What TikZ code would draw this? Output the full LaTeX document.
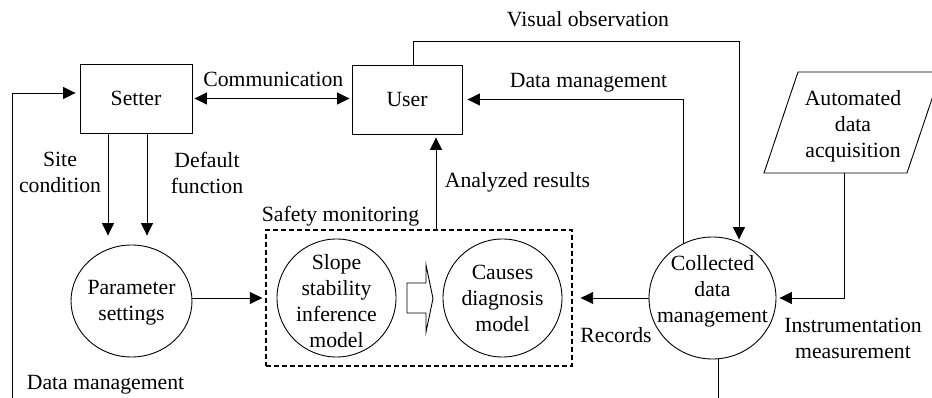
\documentclass[tikz,border=0pt]{standalone}
\usepackage{fontspec}
\setmainfont{Liberation Serif}
\usetikzlibrary{arrows.meta,shapes.geometric}
\begin{document}
\begin{tikzpicture}[x=1pt,y=-1pt,
  every node/.style={font=\fontsize{21.7pt}{26pt}\selectfont, inner sep=0pt},
  line/.style={line width=0.9pt},
  arr/.style={line, -{Triangle[length=12.5pt,width=12pt]}},
  darr/.style={line, {Triangle[length=12.5pt,width=12pt]}-{Triangle[length=12.5pt,width=12pt]}},
  box/.style={draw, line width=0.9pt, minimum width=#1, minimum height=69pt},
  blob/.style 2 args={draw, ellipse, line width=0.9pt, minimum width=#1, minimum height=#2},
  txt/.style={align=center, anchor=north},
  lbl/.style={anchor=base}
]
\useasboundingbox (0,0) rectangle (932,398);

% actors
\node[box=112pt] (setter) at (136,98.5) {Setter};
\node[box=110pt] (user) at (407,99.5) {User};

% processes
\node[blob={121pt}{112pt}] (param) at (131.5,301) {};
\node[txt] (paramtxt) at (131.5,280.3) {Parameter\\settings};

\node[draw, line width=1.3pt, dash pattern=on 5pt off 3pt,
      minimum width=306pt, minimum height=136pt] (safety) at (419,298) {};
\node[blob={119pt}{118pt}] (slope) at (336.5,298) {};
\node[txt] (slopetxt) at (336.5,254.3) {Slope\\stability\\inference\\model};
\node[blob={119pt}{118pt}] (causes) at (502.5,298) {};
\node[txt] (causestxt) at (502.5,265.3) {Causes\\diagnosis\\model};
\filldraw[fill=white, line width=0.9pt]
  (407,283) -- (426,283) -- (426,265) -- (433,298.5) -- (426,332) -- (426,313) -- (407,313) -- cycle;

\node[blob={127pt}{122pt}] (collected) at (712.5,298) {};
\node[txt] (collectedtxt) at (712.5,255.3) {Collected\\data\\management};

% data source
\draw[line] (764,173) -- (907,173) -- (941,72) -- (798,72) -- cycle;
\node[txt] (acq) at (853,90.3) {Automated\\data\\acquisition};
\coordinate (acqb) at (844,173);
\coordinate (dmend) at (12,398);
\coordinate (cdmend) at (718,398);

% connectors
\draw[darr, shorten <=2pt, shorten >=2pt] (setter.east) -- (setter.east -| user.west);
\draw[arr, shorten >=4pt] (dmend) |- ([yshift=5.5pt]setter.west);
\draw[arr, shorten >=9pt] ([xshift=-28pt]setter.south) -- ([xshift=-28pt]setter.south |- param.north);
\draw[arr, shorten >=9pt] ([xshift=11pt]setter.south) -- ([xshift=11pt]setter.south |- param.north);
\draw[arr, shorten >=3pt] (param.east |- safety.west) -- (safety.west);
\draw[arr, shorten >=3pt] ([xshift=17pt]safety.north) -- ([xshift=17pt]safety.north |- user.south);
\draw[arr] ([xshift=6pt]user.north) -- ++(0,-23) -| ([xshift=26.5pt,yshift=-3pt]collected.north);
\draw[arr, shorten >=5pt] ([xshift=-29.5pt,yshift=-7pt]collected.north) |- (user.east);
\draw[arr, shorten >=3pt] (acqb) |- (collected.east);
\draw[arr, shorten >=8pt] (collected.west) -- (safety.east);
\draw[line] (collected.south -| cdmend) -- (cdmend);

% flow labels
\node[lbl] (lcomm) at (273.3,87) {Communication};
\node[lbl] (lvis) at (588,27) {Visual observation};
\node[lbl] (ldm1) at (588.5,88) {Data management};
\node[txt] (lsite) at (60,152.3) {Site\\condition};
\node[txt] (ldef) at (207,152.3) {Default\\function};
\node[lbl] (lana) at (517.5,188) {Analyzed results};
\node[lbl] (lsafe) at (340.5,222) {Safety monitoring};
\node[lbl] (lrec) at (616,342) {Records};
\node[txt] (linst) at (853,318.3) {Instrumentation\\measurement};
\node[lbl] (ldm2) at (105.5,389) {Data management};
\end{tikzpicture}
\end{document}
